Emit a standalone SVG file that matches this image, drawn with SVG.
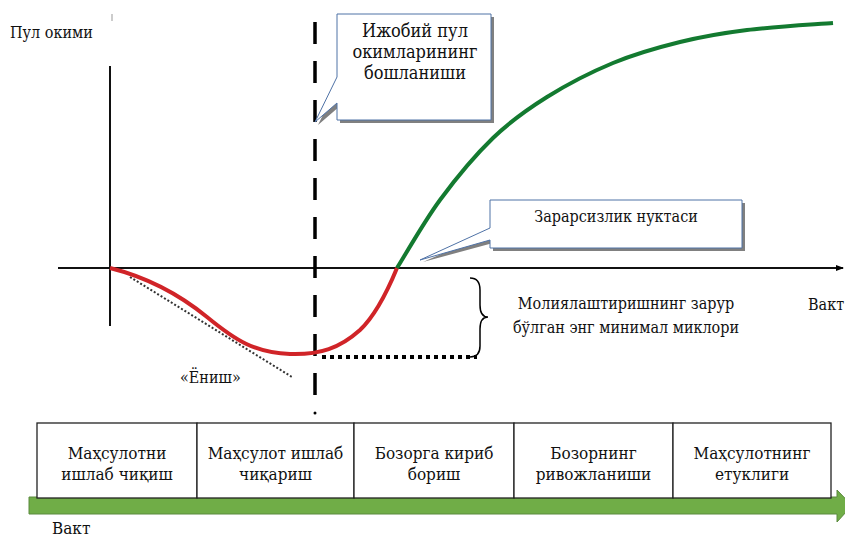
<svg xmlns="http://www.w3.org/2000/svg" width="845" height="538" viewBox="0 0 845 538">
<style>
text{font-family:'DejaVu Serif Condensed','DejaVu Serif',serif;font-stretch:condensed;font-size:16px;fill:#111}
.c{text-anchor:middle}
.big{font-size:18px}
.cellt{font-size:17px}
.box{fill:#fff;stroke:#4f72a6;stroke-width:1}
.shadow{fill:#808080}
.cell{fill:#fff;stroke:#222;stroke-width:1.3}
</style>
<defs>
<marker id="ah" markerWidth="8" markerHeight="8" refX="7" refY="4" orient="auto" markerUnits="userSpaceOnUse">
<path d="M0,1 L8,4 L0,7 Z" fill="#000"/>
</marker>
</defs>
<rect width="845" height="538" fill="#fff"/>

<g id="axes">
<line x1="110" y1="66" x2="110" y2="326" stroke="#111" stroke-width="2"/>
<line x1="58" y1="268" x2="843" y2="268" stroke="#111" stroke-width="2" marker-end="url(#ah)"/>
<line x1="112" y1="14" x2="112" y2="21" stroke="#999" stroke-width="1"/>
<text x="10" y="38">Пул окими</text>
<text x="808" y="310">Вакт</text>
</g>

<g id="connectors">
<line x1="315" y1="22" x2="315" y2="396" stroke="#000" stroke-width="3.5" stroke-dasharray="22,17"/>
<circle cx="315" cy="413" r="1.5" fill="#000"/>
<line x1="130" y1="277" x2="292" y2="377" stroke="#333" stroke-width="2" stroke-dasharray="2,2"/>
<path d="M110,268 C150,278 180,295 207,317 C235,340 255,353 290,354 C320,355 340,348 360,330 C378,313 390,285 397,268" fill="none" stroke="#d02428" stroke-width="4"/>
<path d="M397,268 C404.2,256.7 424,221.7 440,200 C456,178.3 475.2,155.2 493,138 C510.8,120.8 527,109.5 547,97 C567,84.5 590.8,72.2 613,63 C635.2,53.8 657.7,47.5 680,42 C702.3,36.5 721.5,33.2 747,30 C772.5,26.8 818.7,24.2 833,23" fill="none" stroke="#137a30" stroke-width="4"/>
<line x1="322" y1="357" x2="477" y2="357" stroke="#000" stroke-width="4" stroke-dasharray="4,4"/>
<path d="M470,278 Q480,278 480,290 L480,305 Q480,317 488,317 Q480,317 480,329 L480,346 Q480,357 470,357" fill="none" stroke="#000" stroke-width="1.5"/>
</g>

<g id="callout-start">
<path class="shadow" d="M340,17 H494 V123 H340 V106 L318,125 L340,80 Z"/>
<path class="box" d="M337,14 H491 V120 H337 V103 L315,122 L337,77 Z"/>
<text class="c big" x="415" y="37">Ижобий пул</text>
<text class="c big" x="415" y="58">окимларининг</text>
<text class="c big" x="415" y="79">бошланиши</text>
</g>

<g id="callout-breakeven">
<path class="shadow" d="M493,203 H745 V251 H493 V243 L423,262 L493,231 Z"/>
<path class="box" d="M490,200 H742 V248 H490 V240 L420,260 L490,228 Z"/>
<text class="c" x="616" y="222">Зарарсизлик нуктаси</text>
</g>

<g id="label-min">
<text class="c" x="626" y="309">Молиялаштиришнинг зарур</text>
<text class="c" x="626" y="333">бўлган энг минимал миклори</text>
</g>

<g id="label-dip">
<text x="180" y="383">«Ёниш»</text>
</g>

<g id="timeline">
<path d="M29,497 H837 V490 L852,505.5 L837,522 V514 H29 Z" fill="#70ad47" stroke="#5b8a3e" stroke-width="1"/>
<text class="cellt" x="52" y="534">Вакт</text>
</g>

<g id="stage1">
<rect class="cell" x="37" y="423" width="160" height="75"/>
<text class="c cellt" x="117" y="459">Маҳсулотни</text>
<text class="c cellt" x="117" y="480">ишлаб чиқиш</text>
</g>
<g id="stage2">
<rect class="cell" x="197" y="423" width="157" height="75"/>
<text class="c cellt" x="275.5" y="459">Маҳсулот ишлаб</text>
<text class="c cellt" x="275.5" y="480">чиқариш</text>
</g>
<g id="stage3">
<rect class="cell" x="354" y="423" width="160" height="75"/>
<text class="c cellt" x="434" y="459">Бозорга кириб</text>
<text class="c cellt" x="434" y="480">бориш</text>
</g>
<g id="stage4">
<rect class="cell" x="514" y="423" width="159" height="75"/>
<text class="c cellt" x="593.5" y="459">Бозорнинг</text>
<text class="c cellt" x="593.5" y="480">ривожланиши</text>
</g>
<g id="stage5">
<rect class="cell" x="673" y="423" width="158" height="75"/>
<text class="c cellt" x="752" y="459">Маҳсулотнинг</text>
<text class="c cellt" x="752" y="480">етуклиги</text>
</g>
</svg>
